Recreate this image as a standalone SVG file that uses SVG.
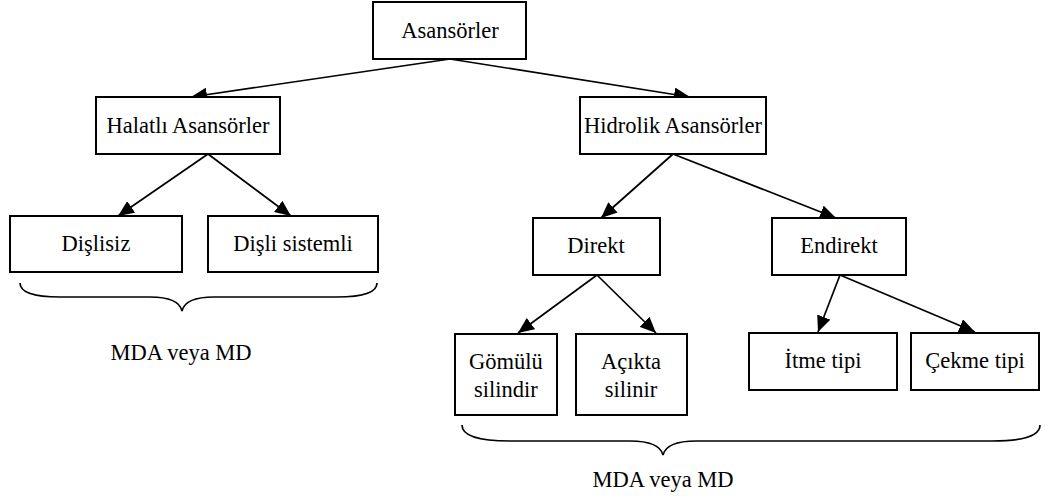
<svg xmlns="http://www.w3.org/2000/svg" width="1045" height="496" viewBox="0 0 1045 496">
<style>
.box{fill:#fff;stroke:#000;stroke-width:2}
.t{font-family:'Liberation Serif','Times New Roman',serif;font-size:22.5px;fill:#000;text-anchor:middle}
.c{stroke:#000;stroke-width:1.7;fill:none;marker-end:url(#ah)}
.br{stroke:#000;stroke-width:1.7;fill:none}
</style>
<defs>
<marker id="ah" viewBox="0 0 16 14" refX="16" refY="7" markerWidth="16" markerHeight="14" markerUnits="userSpaceOnUse" orient="auto">
<path d="M0,0 L16,7 L0,14 Z" fill="#000"/>
</marker>
</defs>
<g id="connectors">
<line class="c" x1="450" y1="59" x2="191" y2="97"/>
<line class="c" x1="450" y1="59" x2="690" y2="97"/>
<line class="c" x1="208" y1="154" x2="118" y2="216"/>
<line class="c" x1="208" y1="154" x2="291" y2="216"/>
<line class="c" x1="673" y1="154" x2="601" y2="218"/>
<line class="c" x1="673" y1="154" x2="836" y2="218"/>
<line class="c" x1="597" y1="275" x2="518" y2="333"/>
<line class="c" x1="597" y1="275" x2="656" y2="333"/>
<line class="c" x1="840" y1="275" x2="818" y2="332"/>
<line class="c" x1="840" y1="275" x2="975" y2="332"/>
</g>
<g id="n-asansorler"><rect class="box" x="373" y="2" width="153" height="57"/><text class="t" x="450" y="38">Asansörler</text></g>
<g id="n-halatli"><rect class="box" x="96" y="97" width="184" height="57"/><text class="t" x="188" y="133">Halatlı Asansörler</text></g>
<g id="n-hidrolik"><rect class="box" x="580" y="97" width="186" height="57"/><text class="t" x="673" y="133">Hidrolik Asansörler</text></g>
<g id="n-dislisiz"><rect class="box" x="10" y="216" width="172" height="56"/><text class="t" x="96" y="251">Dişlisiz</text></g>
<g id="n-disli-sistemli"><rect class="box" x="208" y="216" width="170" height="56"/><text class="t" x="293" y="251">Dişli sistemli</text></g>
<g id="n-direkt"><rect class="box" x="533" y="218" width="127" height="57"/><text class="t" x="596" y="253">Direkt</text></g>
<g id="n-endirekt"><rect class="box" x="772" y="218" width="134" height="57"/><text class="t" x="839" y="253">Endirekt</text></g>
<g id="n-gomulu"><rect class="box" x="455" y="334" width="102" height="81"/><text class="t" x="506" y="369">Gömülü</text><text class="t" x="506" y="397">silindir</text></g>
<g id="n-acikta"><rect class="box" x="576" y="334" width="111" height="81"/><text class="t" x="631" y="369">Açıkta</text><text class="t" x="631" y="397">silinir</text></g>
<g id="n-itme"><rect class="box" x="749" y="333" width="148" height="57"/><text class="t" x="823" y="368">İtme tipi</text></g>
<g id="n-cekme"><rect class="box" x="911" y="333" width="128" height="57"/><text class="t" x="975" y="368">Çekme tipi</text></g>
<g id="brace-left">
<path class="br" d="M20,283 C20,293 34,297 60,297 L150,297 C170,297 180,302 182,311 C184,302 194,297 214,297 L337,297 C363,297 377,293 377,283"/>
<text class="t" x="181" y="360">MDA veya MD</text>
</g>
<g id="brace-right">
<path class="br" d="M462,425 C462,436 478,441 510,441 L630,441 C652,441 661,447 663,455 C665,447 674,441 696,441 L992,441 C1024,441 1040,436 1040,425"/>
<text class="t" x="663" y="487">MDA veya MD</text>
</g>
</svg>
